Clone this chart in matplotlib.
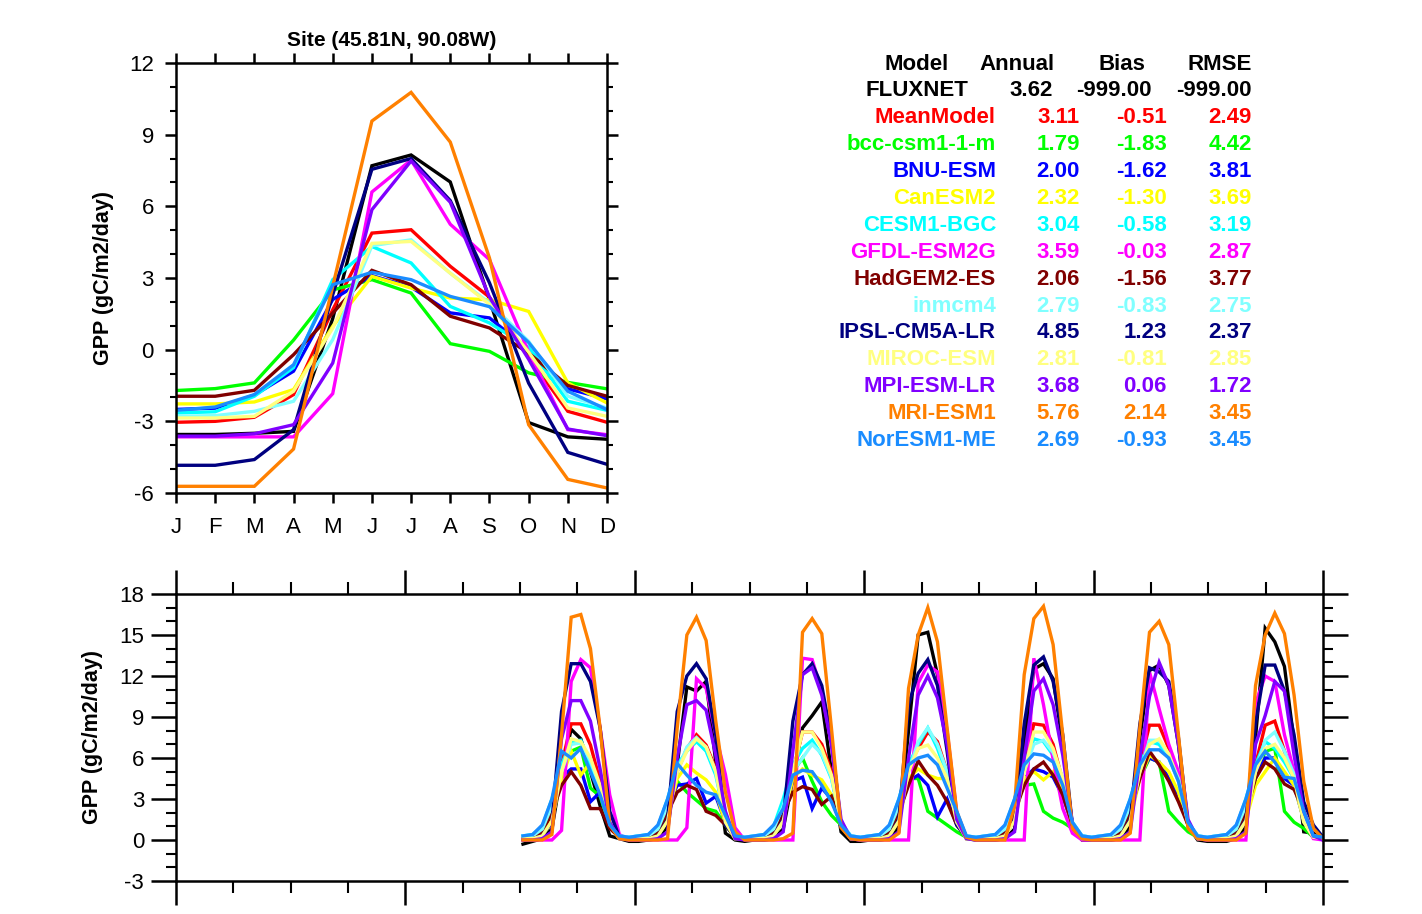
import numpy as np
import matplotlib
matplotlib.use("Agg")
import matplotlib.pyplot as plt
from matplotlib.ticker import FixedLocator, MultipleLocator

plt.rcParams['font.family'] = ['Liberation Sans', 'DejaVu Sans']
plt.rcParams['axes.unicode_minus'] = False

# ---- data -------------------------------------------------------------
months = ['J', 'F', 'M', 'A', 'M', 'J', 'J', 'A', 'S', 'O', 'N', 'D']

models = ['FLUXNET', 'MeanModel', 'bcc-csm1-1-m', 'BNU-ESM', 'CanESM2', 'CESM1-BGC',
          'GFDL-ESM2G', 'HadGEM2-ES', 'inmcm4', 'IPSL-CM5A-LR', 'MIROC-ESM',
          'MPI-ESM-LR', 'MRI-ESM1', 'NorESM1-ME']
colors = ['#000000', '#ff0000', '#00ff00', '#0000ff', '#ffff00', '#00ffff',
          '#ff00ff', '#800000', '#80ffff', '#000080', '#ffff80',
          '#8000ff', '#ff8000', '#1a8cff']

annual = ['3.62', '3.11', '1.79', '2.00', '2.32', '3.04', '3.59', '2.06', '2.79',
          '4.85', '2.81', '3.68', '5.76', '2.69']
bias = ['-999.00', '-0.51', '-1.83', '-1.62', '-1.30', '-0.58', '-0.03', '-1.56', '-0.83',
        '1.23', '-0.81', '0.06', '2.14', '-0.93']
rmse = ['-999.00', '2.49', '4.42', '3.81', '3.69', '3.19', '2.87', '3.77', '2.75',
        '2.37', '2.85', '1.72', '3.45', '3.45']

# monthly climatology (upper panel)
clim = {
    'FLUXNET':      [-3.55, -3.55, -3.5, -3.42, 1.3, 7.7, 8.15, 7.02, 2.1, -3.05, -3.65, -3.75],
    'MeanModel':    [-3.04, -3.0, -2.83, -1.88, 1.67, 4.88, 5.02, 3.49, 2.2, -0.3, -2.58, -3.04],
    'bcc-csm1-1-m': [-1.71, -1.63, -1.39, 0.4, 2.5, 2.93, 2.37, 0.25, -0.07, -0.97, -1.37, -1.64],
    'BNU-ESM':      [-2.5, -2.45, -1.9, -0.9, 2.1, 3.1, 2.62, 1.54, 1.33, 0.0, -1.64, -2.06],
    'CanESM2':      [-2.27, -2.27, -2.19, -1.67, 0.98, 3.07, 2.58, 2.16, 2.09, 1.6, -1.39, -2.23],
    'CESM1-BGC':    [-2.65, -2.6, -1.95, -0.75, 2.93, 4.32, 3.63, 1.81, 1.12, 0.1, -2.16, -2.54],
    'GFDL-ESM2G':   [-3.65, -3.65, -3.65, -3.65, -1.84, 6.6, 7.94, 5.25, 3.77, -0.1, -3.35, -3.56],
    'HadGEM2-ES':   [-1.95, -1.95, -1.7, -0.21, 1.53, 3.32, 2.72, 1.4, 0.91, -0.14, -1.5, -1.95],
    'inmcm4':       [-2.79, -2.76, -2.58, -2.16, 0.42, 4.35, 4.6, 3.2, 1.95, 0.35, -1.95, -2.44],
    'IPSL-CM5A-LR': [-4.84, -4.84, -4.6, -3.35, 2.3, 7.55, 8.0, 6.24, 2.8, -1.4, -4.3, -4.8],
    'MIROC-ESM':    [-2.86, -2.86, -2.79, -1.74, 0.9, 4.45, 4.53, 3.2, 1.9, -0.1, -2.44, -2.79],
    'MPI-ESM-LR':   [-3.62, -3.62, -3.52, -3.14, -0.56, 5.86, 7.9, 6.17, 2.2, -0.4, -3.32, -3.6],
    'MRI-ESM1':     [-5.72, -5.72, -5.72, -4.16, 2.65, 9.57, 10.77, 8.69, 3.84, -3.14, -5.43, -5.79],
    'NorESM1-ME':   [-2.54, -2.4, -1.88, -0.63, 2.72, 3.24, 2.93, 2.23, 1.8, 0.3, -1.74, -2.51],
}

# monthly series (lower panel), 7 years x 12 months, starting at month 36
series = {
    'FLUXNET': [
        [-0.3, -0.1, 0.1, 0.8, 5.0, 8.1, 7.4, 5.0, 2.5, 0.3, 0.1, -0.1],
        [-0.1, 0.0, 0.1, 1.0, 5.5, 11.2, 10.9, 11.6, 5.7, 0.5, 0.0, -0.1],
        [0.0, 0.0, 0.1, 0.8, 4.5, 8.2, 9.1, 10.1, 5.0, 0.6, -0.1, -0.1],
        [0.0, 0.0, 0.1, 1.0, 8.0, 15.0, 15.2, 12.1, 7.7, 1.8, 0.1, 0.0],
        [0.0, 0.0, 0.1, 0.8, 7.0, 12.5, 12.9, 11.8, 7.0, 1.0, 0.0, 0.0],
        [0.0, 0.0, 0.1, 1.0, 7.5, 12.4, 12.8, 11.3, 7.0, 1.0, 0.0, -0.1],
        [-0.1, -0.1, 0.1, 1.0, 7.5, 15.5, 14.5, 12.7, 7.2, 0.6, 0.5, 0.0]],
    'MeanModel': [
        [0.1, 0.1, 0.4, 1.8, 5.5, 8.5, 8.5, 6.95, 4.3, 1.1, 0.2, 0.1],
        [0.1, 0.1, 0.4, 1.8, 5.0, 6.7, 7.7, 6.95, 5.2, 1.5, 0.2, 0.1],
        [0.1, 0.1, 0.4, 1.8, 5.0, 7.9, 7.9, 7.0, 5.0, 1.2, 0.2, 0.1],
        [0.1, 0.1, 0.4, 1.8, 5.5, 6.7, 7.9, 7.2, 5.0, 1.3, 0.2, 0.1],
        [0.1, 0.1, 0.4, 1.8, 5.5, 8.5, 8.4, 7.0, 4.3, 1.2, 0.2, 0.1],
        [0.1, 0.1, 0.4, 1.8, 5.5, 8.4, 8.4, 6.7, 4.5, 1.2, 0.2, 0.1],
        [0.1, 0.1, 0.4, 1.8, 5.5, 8.4, 8.7, 6.5, 4.75, 1.5, 0.3, 0.1]],
    'bcc-csm1-1-m': [
        [0.1, 0.2, 0.6, 2.5, 5.0, 6.5, 6.8, 3.8, 3.2, 1.0, 0.2, 0.1],
        [0.1, 0.2, 0.6, 2.5, 4.3, 3.5, 2.9, 2.3, 2.1, 1.1, 0.2, 0.1],
        [0.1, 0.2, 0.6, 2.5, 5.0, 6.0, 4.3, 2.8, 1.8, 1.1, 0.2, 0.1],
        [0.1, 0.2, 0.6, 2.5, 4.5, 4.5, 2.1, 1.6, 1.1, 0.6, 0.2, 0.1],
        [0.1, 0.2, 0.6, 2.5, 4.0, 4.1, 2.1, 1.6, 1.3, 0.85, 0.2, 0.1],
        [0.1, 0.2, 0.6, 2.5, 4.5, 6.0, 5.7, 2.1, 1.3, 0.6, 0.2, 0.1],
        [0.1, 0.2, 0.6, 2.5, 4.5, 6.5, 6.7, 2.1, 1.3, 0.85, 0.2, 0.1]],
    'BNU-ESM': [
        [0.1, 0.2, 0.7, 2.4, 4.6, 5.2, 5.2, 2.8, 3.5, 1.1, 0.2, 0.1],
        [0.1, 0.2, 0.7, 2.4, 4.0, 4.1, 4.5, 2.7, 3.2, 1.3, 0.2, 0.1],
        [0.1, 0.2, 0.7, 2.4, 4.3, 4.6, 2.3, 3.8, 3.0, 1.1, 0.2, 0.1],
        [0.1, 0.2, 0.7, 2.4, 4.3, 4.75, 4.0, 1.7, 3.0, 1.1, 0.2, 0.1],
        [0.1, 0.2, 0.7, 2.4, 4.5, 5.2, 5.0, 4.6, 3.2, 1.1, 0.2, 0.1],
        [0.1, 0.2, 0.7, 2.4, 4.8, 6.0, 5.7, 4.5, 3.3, 1.1, 0.2, 0.1],
        [0.1, 0.2, 0.7, 2.4, 4.6, 6.0, 6.0, 4.5, 4.0, 1.5, 0.3, 0.1]],
    'CanESM2': [
        [0.1, 0.1, 0.3, 1.5, 4.5, 6.5, 4.75, 5.7, 3.5, 1.0, 0.1, 0.1],
        [0.1, 0.1, 0.3, 1.5, 4.5, 5.5, 4.9, 4.4, 3.5, 1.2, 0.1, 0.1],
        [0.1, 0.1, 0.3, 1.5, 4.5, 5.2, 4.75, 4.4, 3.3, 1.0, 0.1, 0.1],
        [0.1, 0.1, 0.3, 1.5, 4.5, 5.2, 4.75, 4.5, 4.5, 1.5, 0.1, 0.1],
        [0.1, 0.1, 0.3, 1.5, 4.5, 5.0, 4.4, 5.0, 3.5, 1.0, 0.1, 0.1],
        [0.1, 0.1, 0.3, 1.5, 4.5, 6.2, 5.7, 5.0, 3.5, 1.0, 0.1, 0.1],
        [0.1, 0.1, 0.3, 1.5, 4.0, 5.0, 6.0, 5.0, 4.0, 1.5, 0.2, 0.1]],
    'CESM1-BGC': [
        [0.3, 0.4, 1.0, 3.0, 5.5, 7.2, 7.3, 5.5, 3.5, 1.2, 0.3, 0.2],
        [0.3, 0.4, 1.0, 3.0, 5.5, 6.5, 7.2, 6.5, 4.75, 1.5, 0.3, 0.2],
        [0.3, 0.4, 1.0, 3.0, 5.5, 6.7, 7.3, 6.2, 4.5, 1.3, 0.3, 0.2],
        [0.3, 0.4, 1.0, 3.0, 5.5, 7.0, 8.2, 6.7, 4.75, 1.5, 0.3, 0.2],
        [0.3, 0.4, 1.0, 3.0, 5.5, 7.4, 7.2, 6.2, 4.5, 1.3, 0.3, 0.2],
        [0.3, 0.4, 1.0, 3.0, 5.5, 7.2, 7.0, 6.0, 4.3, 1.3, 0.3, 0.2],
        [0.3, 0.4, 1.0, 3.0, 5.5, 7.2, 6.7, 5.7, 4.5, 1.5, 0.3, 0.2]],
    'GFDL-ESM2G': [
        [0.0, 0.0, 0.0, 0.0, 0.7, 11.6, 13.2, 12.6, 8.2, 3.3, 0.4, 0.0],
        [0.0, 0.0, 0.0, 0.0, 0.0, 0.9, 11.8, 11.1, 7.7, 4.8, 0.9, 0.0],
        [0.0, 0.0, 0.0, 0.0, 0.0, 13.3, 13.2, 10.9, 7.0, 1.0, 0.1, 0.0],
        [0.0, 0.0, 0.0, 0.0, 0.0, 11.5, 12.8, 12.3, 8.0, 2.0, 0.2, 0.0],
        [0.0, 0.0, 0.0, 0.0, 0.0, 13.3, 9.9, 5.9, 2.3, 0.5, 0.0, 0.0],
        [0.0, 0.0, 0.0, 0.0, 0.0, 12.3, 9.6, 7.0, 5.0, 1.0, 0.1, 0.0],
        [0.0, 0.0, 0.0, 0.0, 10.0, 12.0, 11.6, 7.7, 5.0, 1.5, 0.1, 0.0]],
    'HadGEM2-ES': [
        [0.1, 0.2, 0.5, 2.0, 4.0, 5.0, 4.0, 2.3, 2.3, 0.85, 0.2, 0.1],
        [0.1, 0.2, 0.5, 2.0, 3.5, 4.0, 3.7, 2.1, 1.8, 1.1, 0.2, 0.1],
        [0.1, 0.2, 0.5, 2.0, 3.5, 3.9, 3.7, 2.6, 3.2, 1.1, 0.2, 0.1],
        [0.1, 0.2, 0.5, 2.0, 4.0, 5.8, 4.75, 4.0, 2.8, 1.1, 0.2, 0.1],
        [0.1, 0.2, 0.5, 2.0, 4.0, 5.2, 5.7, 4.75, 3.3, 1.1, 0.2, 0.1],
        [0.1, 0.2, 0.5, 2.0, 4.5, 6.5, 5.5, 4.3, 2.8, 1.1, 0.2, 0.1],
        [0.1, 0.2, 0.5, 2.0, 4.5, 5.7, 5.2, 4.1, 3.7, 2.1, 0.3, 0.1]],
    'inmcm4': [
        [0.3, 0.3, 0.8, 2.5, 5.0, 7.0, 7.1, 5.8, 3.8, 1.3, 0.3, 0.2],
        [0.3, 0.3, 0.8, 2.5, 5.0, 6.8, 7.5, 6.8, 5.0, 1.5, 0.3, 0.2],
        [0.3, 0.3, 0.8, 2.5, 5.0, 6.0, 7.0, 6.3, 4.6, 1.3, 0.3, 0.2],
        [0.3, 0.3, 0.8, 2.5, 5.0, 7.2, 8.2, 7.0, 5.0, 1.5, 0.3, 0.2],
        [0.3, 0.3, 0.8, 2.5, 5.0, 7.0, 7.3, 6.4, 4.5, 1.3, 0.3, 0.2],
        [0.3, 0.3, 0.8, 2.5, 5.0, 7.3, 7.3, 6.2, 4.5, 1.3, 0.3, 0.2],
        [0.3, 0.3, 0.8, 2.5, 5.0, 7.3, 7.9, 6.5, 4.8, 1.5, 0.3, 0.2]],
    'IPSL-CM5A-LR': [
        [0.1, 0.1, 0.3, 1.3, 9.4, 12.9, 12.9, 11.6, 8.2, 2.1, 0.2, 0.1],
        [0.1, 0.1, 0.3, 1.5, 9.4, 12.0, 12.9, 11.8, 7.7, 1.1, 0.2, 0.1],
        [0.1, 0.1, 0.3, 1.5, 8.7, 12.1, 12.9, 11.3, 7.4, 1.1, 0.2, 0.1],
        [0.1, 0.1, 0.3, 1.5, 9.9, 12.2, 13.2, 11.3, 6.5, 1.1, 0.2, 0.1],
        [0.1, 0.1, 0.3, 1.5, 8.5, 12.8, 13.4, 11.6, 7.7, 1.1, 0.2, 0.1],
        [0.1, 0.1, 0.3, 1.5, 8.5, 12.6, 12.3, 11.6, 7.5, 1.1, 0.2, 0.1],
        [0.1, 0.1, 0.3, 1.5, 8.5, 12.8, 12.8, 10.9, 7.7, 2.8, 1.1, 0.2]],
    'MIROC-ESM': [
        [0.1, 0.1, 0.3, 1.4, 5.0, 7.4, 7.2, 6.0, 4.0, 1.2, 0.1, 0.1],
        [0.1, 0.1, 0.3, 1.4, 5.0, 6.5, 7.4, 6.8, 5.0, 1.3, 0.1, 0.1],
        [0.1, 0.1, 0.3, 1.4, 5.0, 7.9, 7.9, 6.7, 4.75, 1.2, 0.1, 0.1],
        [0.1, 0.1, 0.3, 1.4, 5.0, 6.7, 6.95, 6.0, 4.5, 1.3, 0.1, 0.1],
        [0.1, 0.1, 0.3, 1.4, 5.0, 7.9, 7.9, 6.7, 4.5, 1.2, 0.1, 0.1],
        [0.1, 0.1, 0.3, 1.4, 5.0, 7.0, 7.4, 6.3, 4.3, 1.2, 0.1, 0.1],
        [0.1, 0.1, 0.3, 1.4, 5.0, 6.7, 7.0, 6.0, 4.5, 1.3, 0.2, 0.1]],
    'MPI-ESM-LR': [
        [0.0, 0.0, 0.1, 0.6, 7.4, 10.2, 10.2, 8.7, 5.2, 1.3, 0.1, 0.0],
        [0.0, 0.0, 0.1, 0.6, 6.0, 9.9, 10.2, 9.5, 6.2, 2.1, 0.1, 0.0],
        [0.0, 0.0, 0.1, 0.6, 6.5, 12.1, 12.6, 10.6, 7.0, 1.5, 0.1, 0.0],
        [0.0, 0.0, 0.1, 0.6, 6.0, 10.6, 12.0, 10.4, 7.0, 1.5, 0.1, 0.0],
        [0.0, 0.0, 0.1, 0.6, 6.0, 10.9, 11.8, 9.9, 6.2, 1.2, 0.1, 0.0],
        [0.0, 0.0, 0.1, 0.6, 6.0, 10.5, 13.0, 11.3, 7.0, 1.5, 0.1, 0.0],
        [0.0, 0.0, 0.1, 0.6, 7.0, 9.1, 11.6, 10.9, 6.2, 2.1, 0.3, 0.0]],
    'MRI-ESM1': [
        [0.0, 0.0, 0.0, 0.4, 7.7, 16.3, 16.5, 14.0, 8.2, 1.1, 0.1, 0.0],
        [0.0, 0.0, 0.0, 0.1, 8.2, 15.0, 16.3, 14.6, 8.7, 3.5, 0.6, 0.0],
        [0.0, 0.0, 0.0, 0.1, 0.5, 15.2, 16.2, 15.1, 8.2, 0.9, 0.1, 0.0],
        [0.0, 0.0, 0.0, 0.5, 11.1, 15.0, 17.0, 14.5, 8.2, 2.1, 0.2, 0.0],
        [0.0, 0.0, 0.0, 2.5, 12.1, 16.2, 17.1, 14.3, 7.7, 0.85, 0.1, 0.0],
        [0.0, 0.0, 0.0, 0.5, 8.2, 15.2, 16.0, 14.3, 7.7, 0.85, 0.1, 0.0],
        [0.0, 0.0, 0.0, 0.5, 11.3, 15.0, 16.6, 15.1, 10.6, 4.3, 0.85, 0.1]],
    'NorESM1-ME': [
        [0.3, 0.4, 1.1, 3.0, 6.5, 6.0, 6.7, 5.0, 3.3, 1.1, 0.3, 0.2],
        [0.3, 0.4, 1.1, 3.0, 5.6, 4.75, 4.0, 3.5, 3.3, 1.8, 0.3, 0.2],
        [0.3, 0.4, 1.1, 2.3, 4.75, 5.1, 5.0, 4.0, 2.8, 1.1, 0.3, 0.2],
        [0.3, 0.4, 1.1, 3.0, 5.5, 6.0, 6.2, 5.5, 3.8, 2.1, 0.3, 0.2],
        [0.3, 0.4, 1.1, 3.0, 5.5, 6.3, 6.2, 5.7, 4.0, 1.3, 0.3, 0.2],
        [0.3, 0.4, 1.1, 3.0, 5.5, 6.6, 6.6, 6.0, 4.3, 1.3, 0.3, 0.2],
        [0.3, 0.4, 1.1, 3.0, 5.5, 6.5, 5.7, 4.6, 4.5, 2.1, 0.3, 0.2]],
}
start_month = 36
n_months = 120

# ---- figure -----------------------------------------------------------
W, H = 1422, 914
fig = plt.figure(figsize=(W / 100, H / 100), dpi=100)

def px_rect(l, t, r, b):
    return [l / W, 1 - b / H, (r - l) / W, (b - t) / H]

lw = 2.4
tfs = 16   # tick label size

# upper panel
ax1 = fig.add_axes(px_rect(176, 63, 607, 493))
xm = np.arange(12)
for name, c in zip(models, colors):
    ax1.plot(xm, clim[name], color=c, lw=lw, solid_joinstyle='miter')
ax1.set_xlim(0, 11)
ax1.set_ylim(-6, 12)
ax1.set_xticks(xm)
ax1.set_xticklabels(months)
ax1.yaxis.set_major_locator(MultipleLocator(3))
ax1.yaxis.set_minor_locator(MultipleLocator(1))
ax1.tick_params(axis='x', which='major', direction='out', length=7.5, width=1.8,
                top=True, labelsize=tfs, pad=10)
ax1.tick_params(axis='y', which='major', direction='out', length=8, width=1.8,
                right=True, labelsize=tfs, pad=8)
ax1.tick_params(axis='y', which='minor', direction='out', length=4, width=1.5, right=True)
for s in ax1.spines.values():
    s.set_linewidth(1.8)
ax1.set_title('Site (45.81N, 90.08W)', fontsize=15, fontweight='bold', pad=12)
fig.text(103 / W, 1 - 278 / H, 'GPP (gC/m2/day)', rotation=90, ha='center', va='center',
         fontsize=15.5, fontweight='bold')

# table
ys = 64
dy = 26.9
fs = 16
def put(x, y, s, c):
    fig.text(x / W, 1 - y / H, s, ha='right', va='center', fontsize=fs,
             fontweight='bold', color=c)

put(949, ys, 'Model', 'black')
put(1055, ys, 'Annual', 'black')
put(1145, ys, 'Bias', 'black')
put(1252, ys, 'RMSE', 'black')
put(968, ys + dy, models[0], colors[0])
put(1053, ys + dy, annual[0], colors[0])
put(1152, ys + dy, bias[0], colors[0])
put(1252, ys + dy, rmse[0], colors[0])
for i in range(1, len(models)):
    y = ys + dy * (i + 1)
    put(996, y, models[i], colors[i])
    put(1080, y, annual[i], colors[i])
    put(1167, y, bias[i], colors[i])
    put(1252, y, rmse[i], colors[i])

# lower panel
ax2 = fig.add_axes(px_rect(176, 594, 1323, 881))
xt = np.arange(start_month, n_months)
for name, c in zip(models, colors):
    ax2.plot(xt, np.ravel(series[name]), color=c, lw=lw, solid_joinstyle='miter')
ax2.set_xlim(0, n_months - 1)
ax2.set_ylim(-3, 18)
ax2.xaxis.set_major_locator(FixedLocator(np.linspace(0, n_months - 1, 6)))
ax2.xaxis.set_minor_locator(FixedLocator(np.linspace(0, n_months - 1, 21)))
ax2.yaxis.set_major_locator(MultipleLocator(3))
ax2.yaxis.set_minor_locator(MultipleLocator(1))
ax2.tick_params(axis='x', which='major', direction='out', length=17, width=1.8,
                top=True, labelbottom=False)
ax2.tick_params(axis='x', which='minor', direction='out', length=8.5, width=1.5, top=True)
ax2.tick_params(axis='y', which='major', direction='out', length=18, width=1.8,
                right=True, labelsize=tfs, pad=5)
ax2.tick_params(axis='y', which='minor', direction='out', length=7, width=1.5, right=True)
for s in ax2.spines.values():
    s.set_linewidth(1.8)
fig.text(92 / W, 1 - 737 / H, 'GPP (gC/m2/day)', rotation=90, ha='center', va='center',
         fontsize=15.5, fontweight='bold')

fig.savefig('out.png', dpi=100)
